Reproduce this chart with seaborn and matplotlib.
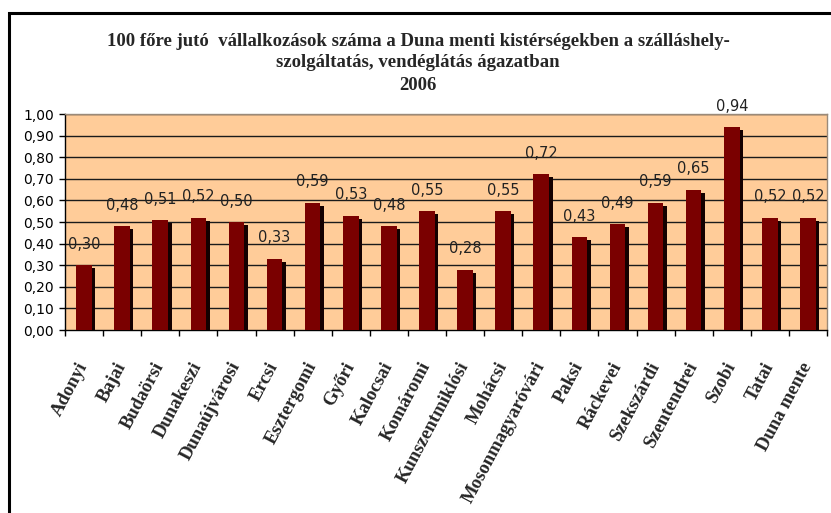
import matplotlib
matplotlib.use("Agg")
import matplotlib.pyplot as plt
import matplotlib.transforms as mtransforms
from matplotlib.patches import Rectangle
import seaborn as sns
import pandas as pd

categories = ["Adonyi", "Bajai", "Budaörsi", "Dunakeszi", "Dunaújvárosi", "Ercsi",
              "Esztergomi", "Győri", "Kalocsai", "Komáromi", "Kunszentmiklósi",
              "Mohácsi", "Mosonmagyaróvári", "Paksi", "Ráckevei", "Szekszárdi",
              "Szentendrei", "Szobi", "Tatai", "Duna mente"]
values = [0.30, 0.48, 0.51, 0.52, 0.50, 0.33, 0.59, 0.53, 0.48, 0.55, 0.28,
          0.55, 0.72, 0.43, 0.49, 0.59, 0.65, 0.94, 0.52, 0.52]
yticks = [0.0, 0.1, 0.2, 0.3, 0.4, 0.5, 0.6, 0.7, 0.8, 0.9, 1.0]
title_lines = ["100 főre jutó  vállalkozások száma a Duna menti kistérségekben a szálláshely-",
               "szolgáltatás, vendéglátás ágazatban",
               "2006"]

df = pd.DataFrame({"kisterseg": categories, "ertek": values})

sns.set_theme(style="white")
plt.rcParams["font.family"] = ["DejaVu Sans"]

W, H = 831, 513
fig = plt.figure(figsize=(W / 100, H / 100), dpi=100)
fig.patch.set_facecolor("white")
ax = fig.add_axes([65 / W, 1 - 330 / H, (827 - 65) / W, (330 - 114) / H])
ax.set_facecolor("#FFCC99")

# shadow bars
sns.barplot(data=df, x="kisterseg", y="ertek", color="#140000", width=0.41,
            saturation=1, ax=ax, zorder=3)
n_shadow = len(ax.patches)
off = mtransforms.ScaledTranslation(3.5 / 100, -3 / 100, fig.dpi_scale_trans)
for p in list(ax.patches)[:n_shadow]:
    p.set_transform(ax.transData + off)
    p.set_edgecolor("none")
# main bars
sns.barplot(data=df, x="kisterseg", y="ertek", color="#7A0000", width=0.41,
            saturation=1, ax=ax, zorder=4)
for p in list(ax.patches)[n_shadow:]:
    p.set_edgecolor("none")

ax.set_ylim(0, 1.0)
ax.set_xlim(-0.5, len(categories) - 0.5)
ax.set_yticks(yticks)
ax.set_yticklabels([f"{v:.2f}".replace(".", ",") for v in yticks], fontsize=10, color="black")
for y in yticks[1:]:
    ax.axhline(y, color="#1a1a1a", lw=1.0, zorder=2)

# value labels
for i, v in enumerate(values):
    ax.annotate(f"{v:.2f}".replace(".", ","), (i, v), xytext=(0, 15), textcoords="offset points",
                ha="center", va="center", fontsize=10.5, color="#222222", zorder=6,
                annotation_clip=False)

ax.set_xlabel("")
ax.set_ylabel("")
ax.set_xticks(range(len(categories)))
ax.set_xticklabels(categories, rotation=62, ha="right", va="center", rotation_mode="anchor",
                   fontsize=13.5, fontweight="bold", family="Liberation Serif")
ax.set_xticks([i - 0.5 for i in range(len(categories) + 1)], minor=True)
ax.tick_params(axis="x", which="major", length=0, pad=24)
ax.tick_params(axis="x", which="minor", length=4, width=1, color="black", direction="out", bottom=True)
ax.tick_params(axis="y", which="major", length=4, width=1, color="black", direction="out", left=True, pad=4)

for s in ["left", "bottom"]:
    ax.spines[s].set_color("black")
    ax.spines[s].set_linewidth(1.0)
for s in ["top", "right"]:
    ax.spines[s].set_color("#9a8a7a")
    ax.spines[s].set_linewidth(1.0)

# titles
ys = [41, 63, 85]
for line, y in zip(title_lines, ys):
    fig.text(418 / W, 1 - y / H, line, ha="center", va="center", fontsize=13.5,
             fontweight="bold", family="Liberation Serif")

# outer frame
fig.patches.append(Rectangle((9 / W, -0.05), 1.0, 1 - 13 / H + 0.05, transform=fig.transFigure,
                             fill=False, edgecolor="black", lw=2.2, clip_on=False))

fig.savefig("out.png", dpi=100)
